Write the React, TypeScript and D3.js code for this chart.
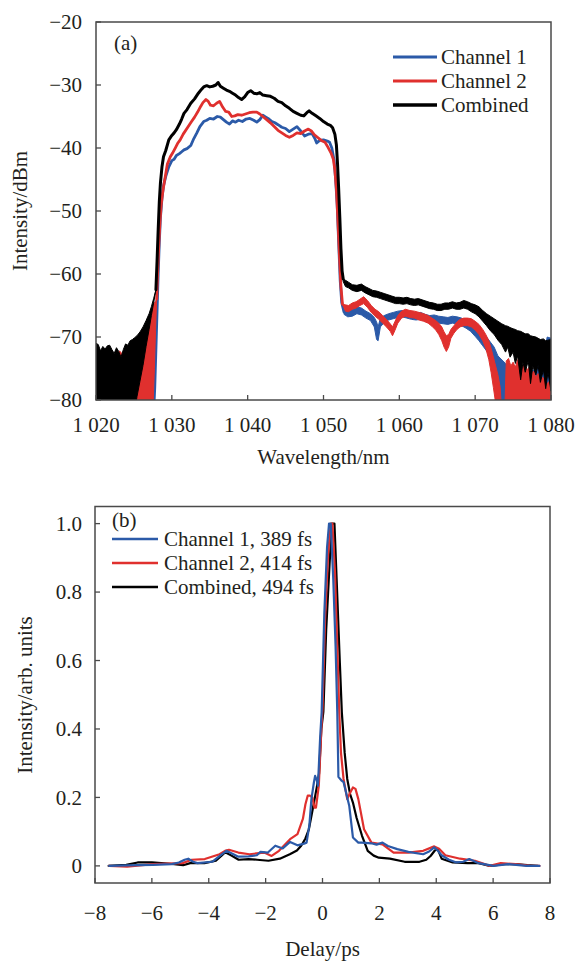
import React from 'react';
import * as d3 from 'd3';

// ---------- Panel (a): spectra ----------
const wlTicks = [1020, 1030, 1040, 1050, 1060, 1070, 1080];
const dbTicks = [-20, -30, -40, -50, -60, -70, -80];

// Channel 1 (blue) main trace
const ch1Wl = [1027.6, 1027.75, 1027.9, 1028.05, 1028.2, 1028.35, 1028.5, 1028.7, 1028.9, 1029.2, 1029.6, 1030.0, 1030.3, 1030.6, 1031.0, 1031.3, 1031.6, 1032.0, 1032.5, 1032.9, 1033.3, 1033.7, 1034.2, 1034.6, 1035.0, 1035.5, 1036.0, 1036.4, 1036.8, 1037.2, 1037.6, 1038.0, 1038.4, 1038.8, 1039.3, 1039.8, 1040.3, 1040.8, 1041.2, 1041.6, 1042.0, 1042.4, 1042.8, 1043.2, 1043.6, 1044.0, 1044.5, 1045.0, 1045.5, 1046.0, 1046.5, 1047.0, 1047.5, 1048.0, 1048.5, 1048.9, 1049.1, 1049.5, 1050.0, 1050.5, 1050.8, 1051.1, 1051.4, 1051.6, 1051.8, 1052.0, 1052.2, 1052.4, 1052.7];
const ch1Db = [-82, -78, -72, -66, -60, -55, -51, -48, -46, -44.5, -43, -42, -41.8, -41.2, -40.9, -40.6, -40.3, -40.1, -39.6, -38.5, -37.6, -36.6, -35.8, -35.6, -35.3, -35.4, -35.0, -35.1, -35.5, -35.9, -36.2, -35.7, -35.9, -35.6, -35.8, -35.4, -35.3, -35.6, -35.9, -35.5, -34.8, -35.1, -35.4, -35.8, -36.0, -36.3, -36.7, -36.9, -37.4, -37.0, -36.6, -37.3, -38.1, -37.8, -37.7, -38.6, -39.2, -38.8, -38.7, -38.9, -39.1, -40, -42, -45, -49, -55, -61, -64.5, -66];
// Channel 1 noisy floor beyond the band edge (upper / lower envelope)
const ch1TailWl = [1052.7, 1053.2, 1053.8, 1054.4, 1055.0, 1055.6, 1056.2, 1056.7, 1057.0, 1057.2, 1057.5, 1058.0, 1058.6, 1059.2, 1059.8, 1060.4, 1061.0, 1061.6, 1062.2, 1062.8, 1063.4, 1064.0, 1064.6, 1065.2, 1065.8, 1066.4, 1067.0, 1067.6, 1068.2, 1068.8, 1069.4, 1070.0, 1070.5, 1071.0, 1071.5, 1072.0, 1072.5, 1073.0, 1074.0, 1075.0, 1076.0, 1077.0, 1078.0, 1079.0, 1079.5, 1080.0];
const ch1TailHi = [-65.6, -65.8, -65.6, -65.2, -65.4, -65.9, -66.3, -66.9, -67.6, -68.4, -67.0, -66.6, -66.3, -66.1, -65.9, -65.8, -66.0, -66.1, -66.2, -66.1, -66.4, -66.6, -66.5, -66.7, -66.8, -66.9, -66.7, -66.8, -67.0, -67.3, -67.6, -68.2, -68.8, -69.4, -70.0, -70.8, -71.6, -73.0, -74.2, -75.0, -75.4, -75.8, -75.0, -73.0, -70.0, -70.2];
const ch1TailLo = [-66.4, -66.8, -66.7, -66.3, -66.5, -67.0, -67.4, -68.4, -70.4, -70.6, -68.4, -67.7, -67.3, -67.1, -66.9, -66.8, -67.0, -67.2, -67.3, -67.2, -67.5, -67.7, -67.6, -67.8, -67.9, -68.0, -67.8, -67.9, -68.2, -68.6, -69.1, -69.9, -70.6, -71.4, -72.2, -73.2, -74.6, -82, -82, -82, -82, -82, -82, -82, -82, -82];

// Channel 2 (red) main trace
const ch2Wl = [1028.0, 1028.15, 1028.3, 1028.45, 1028.6, 1028.8, 1029.0, 1029.4, 1029.8, 1030.1, 1030.5, 1030.8, 1031.1, 1031.5, 1032.1, 1032.6, 1033.0, 1033.4, 1033.8, 1034.1, 1034.5, 1034.8, 1035.1, 1035.5, 1035.9, 1036.3, 1036.7, 1037.1, 1037.5, 1037.9, 1038.3, 1038.7, 1039.2, 1039.7, 1040.2, 1040.7, 1041.2, 1041.6, 1042.0, 1042.5, 1043.0, 1043.5, 1044.0, 1044.5, 1045.0, 1045.5, 1046.0, 1046.5, 1047.0, 1047.5, 1048.0, 1048.4, 1048.8, 1049.2, 1049.7, 1050.2, 1050.6, 1051.0, 1051.3, 1051.5, 1051.7, 1051.9, 1052.1, 1052.3, 1052.5];
const ch2Db = [-64, -59, -55, -51.5, -49, -47, -45.5, -42.6, -41.4, -40.8, -39.9, -39.2, -38.7, -37.8, -36.7, -35.8, -35.1, -34.3, -33.4, -32.8, -32.3, -32.6, -33.2, -33.3, -32.9, -32.6, -33.5, -34.2, -34.3, -35.0, -34.9, -34.7, -34.8, -34.6, -34.4, -34.3, -34.3, -34.6, -35.0, -35.5, -36.0, -36.6, -37.2, -37.6, -38.0, -38.3, -38.0, -37.6, -37.7, -37.3, -37.0, -37.3, -37.9, -38.3, -38.8, -39.1, -39.9, -40.8, -41.8, -43.5, -46.5, -51.5, -57, -62, -64.8];
// Channel 2 noisy floor, short wavelength side
const ch2HeadWl = [1020, 1020.5, 1021, 1021.5, 1022, 1022.5, 1022.8, 1023.1, 1023.4, 1023.8, 1024.2, 1024.6, 1025.0, 1025.4, 1025.8, 1026.2, 1026.6, 1027.0, 1027.3, 1027.55, 1027.7, 1027.85, 1028.0];
const ch2HeadHi = [-74.5, -75, -74.2, -75, -74.6, -73.8, -73.2, -72.2, -72.6, -74, -73.6, -74.5, -74.4, -73.6, -72.6, -71.2, -69.6, -67.8, -66.2, -65.0, -64.6, -64.3, -64];
const ch2HeadLo = [-82, -82, -82, -82, -82, -82, -82, -82, -82, -82, -82, -82, -82, -82, -82, -82, -82, -82, -82, -80, -75, -69, -64];
// Channel 2 noisy floor, long wavelength side
const ch2TailWl = [1052.5, 1052.9, 1053.3, 1053.8, 1054.3, 1054.8, 1055.3, 1055.8, 1056.3, 1056.8, 1057.3, 1057.8, 1058.3, 1058.8, 1059.1, 1059.4, 1059.8, 1060.3, 1060.8, 1061.4, 1062.0, 1062.6, 1063.2, 1063.8, 1064.3, 1064.8, 1065.2, 1065.6, 1065.9, 1066.2, 1066.5, 1066.8, 1067.2, 1067.6, 1068.0, 1068.5, 1069.0, 1069.5, 1070.0, 1070.5, 1071.0, 1071.4, 1071.8, 1072.1, 1072.4, 1072.7, 1073.0, 1073.3, 1073.5, 1073.9, 1074.1, 1074.4, 1074.7, 1075.0, 1075.3, 1075.6, 1075.9, 1076.2, 1076.5, 1076.8, 1077.1, 1077.4, 1077.7, 1078.0, 1078.3, 1078.6, 1078.9, 1079.2, 1079.5, 1079.8, 1080];
const ch2TailHi = [-64.8, -64.9, -65.0, -64.6, -64.4, -64.0, -63.6, -64.2, -65.0, -65.6, -66.0, -66.6, -67.2, -67.9, -68.4, -67.6, -66.6, -65.9, -65.6, -65.8, -65.9, -66.1, -66.3, -66.6, -67.0, -67.4, -67.8, -68.4, -69.2, -69.8, -69.6, -68.8, -68.2, -67.6, -67.2, -67.0, -67.0, -67.1, -67.5, -68.0, -68.8, -69.6, -70.6, -71.8, -73.2, -74.6, -76.0, -78.0, -82, -82, -73.8, -73.4, -74.6, -74.0, -74.8, -73.6, -74.4, -74.9, -74.2, -75.3, -74.8, -76.0, -75.4, -76.4, -75.8, -77.0, -76.4, -76.8, -77.4, -77.0, -77.6];
const ch2TailLo = [-64.8, -65.9, -66.0, -65.6, -65.4, -65.0, -64.7, -65.3, -66.1, -66.7, -67.2, -67.8, -68.4, -69.1, -69.8, -69.0, -67.8, -67.0, -66.7, -66.9, -67.0, -67.3, -67.5, -67.8, -68.3, -68.9, -69.6, -70.6, -71.6, -72.3, -71.6, -70.2, -69.4, -68.8, -68.4, -68.2, -68.2, -68.4, -68.9, -69.6, -70.6, -71.8, -73.6, -75.6, -78.0, -80.5, -82, -82, -82, -82, -82, -82, -82, -82, -82, -82, -82, -82, -82, -82, -82, -82, -82, -82, -82, -82, -82, -82, -82, -82, -82];

// Combined (black) main trace
const cmbWl = [1027.9, 1028.05, 1028.2, 1028.35, 1028.5, 1028.7, 1028.9, 1029.2, 1029.6, 1030.0, 1030.3, 1030.6, 1031.0, 1031.3, 1031.6, 1032.0, 1032.5, 1033.0, 1033.5, 1033.9, 1034.2, 1034.6, 1035.0, 1035.4, 1035.8, 1036.1, 1036.4, 1036.8, 1037.2, 1037.6, 1038.0, 1038.4, 1038.8, 1039.2, 1039.6, 1040.0, 1040.4, 1040.8, 1041.2, 1041.6, 1042.0, 1042.5, 1043.0, 1043.5, 1044.0, 1044.5, 1045.0, 1045.5, 1046.0, 1046.5, 1047.0, 1047.4, 1047.8, 1048.1, 1048.5, 1049.0, 1049.5, 1050.0, 1050.5, 1050.9, 1051.2, 1051.5, 1051.7, 1051.85, 1052.0, 1052.15, 1052.3, 1052.45, 1052.6];
const cmbDb = [-62.5, -58, -53, -48.5, -45.5, -43, -41.4, -40.4, -38.7, -38.0, -37.6, -37.1, -36.2, -35.4, -34.5, -33.9, -32.9, -32.2, -31.3, -30.7, -30.3, -30.1, -30.3, -30.2, -30.0, -29.6, -30.2, -30.5, -30.8, -31.0, -31.3, -31.6, -32.0, -32.3, -31.9, -31.2, -30.9, -31.3, -31.4, -31.2, -31.6, -31.7, -31.8, -32.1, -32.6, -32.8, -33.3, -33.7, -34.2, -34.5, -34.8, -34.9, -34.4, -34.1, -34.5, -34.9, -35.3, -35.8, -36.2, -36.4, -36.8, -37.8, -39.5, -42.5, -46.5, -51, -56, -59.5, -60.8];
// Combined noisy floor, short wavelength side
const cmbHeadWl = [1020, 1020.3, 1020.6, 1020.9, 1021.2, 1021.5, 1021.8, 1022.1, 1022.4, 1022.7, 1023.0, 1023.3, 1023.6, 1023.9, 1024.2, 1024.5, 1024.8, 1025.1, 1025.4, 1025.8, 1026.2, 1026.6, 1027.0, 1027.3, 1027.6, 1027.9];
const cmbHeadHi = [-71.0, -71.2, -72.2, -71.5, -71.9, -71.4, -71.3, -72.0, -72.6, -71.7, -72.3, -73.2, -72.0, -71.1, -71.3, -70.6, -70.4, -70.1, -69.8, -69.2, -68.4, -67.4, -66.3, -65.2, -63.9, -62.5];
const cmbHeadLo = [-82, -82, -82, -82, -82, -82, -82, -82, -82, -82, -82, -82, -82, -82, -82, -82, -82, -82, -79.5, -77, -74.5, -71.5, -68.8, -66.6, -64.6, -62.5];
// Combined noisy floor, long wavelength side
const cmbTailWl = [1052.6, 1052.9, 1053.3, 1053.8, 1054.4, 1055.0, 1055.5, 1056.0, 1056.5, 1057.0, 1057.5, 1058.0, 1058.5, 1059.0, 1059.5, 1060.0, 1060.5, 1061.0, 1061.5, 1062.0, 1062.5, 1063.0, 1063.5, 1064.0, 1064.5, 1065.0, 1065.5, 1066.0, 1066.5, 1067.0, 1067.5, 1068.0, 1068.5, 1069.0, 1069.5, 1070.0, 1070.5, 1071.0, 1071.5, 1072.0, 1072.5, 1073.0, 1073.5, 1074.0, 1074.3, 1074.6, 1075.0, 1075.3, 1075.6, 1076.0, 1076.3, 1076.6, 1077.0, 1077.3, 1077.6, 1078.0, 1078.3, 1078.6, 1079.0, 1079.3, 1079.6, 1080.0];
const cmbTailHi = [-60.8, -61.0, -61.3, -61.7, -61.8, -61.6, -62.0, -62.3, -62.6, -62.7, -62.9, -63.1, -63.3, -63.5, -63.7, -63.7, -63.8, -63.7, -63.9, -64.0, -63.9, -64.1, -64.3, -64.5, -64.6, -64.8, -64.8, -64.6, -64.6, -64.4, -64.6, -64.5, -64.2, -64.4, -64.7, -64.9, -65.2, -65.8, -66.3, -66.7, -67.1, -67.5, -67.9, -68.2, -68.3, -68.5, -68.7, -68.8, -69.0, -69.1, -69.3, -69.5, -69.5, -69.8, -69.9, -70.0, -70.2, -70.4, -70.3, -70.6, -70.5, -70.4];
const cmbTailLo = [-61.2, -62.0, -62.2, -62.6, -62.8, -62.6, -63.0, -63.3, -63.6, -63.7, -63.9, -64.1, -64.3, -64.5, -64.7, -64.7, -64.8, -64.7, -64.9, -65.0, -64.9, -65.1, -65.3, -65.5, -65.6, -65.8, -65.8, -65.6, -65.6, -65.4, -65.6, -65.6, -65.4, -65.6, -66.0, -66.3, -66.8, -67.5, -68.2, -69.0, -69.6, -70.5, -71.2, -72.4, -71.6, -73.2, -72.4, -74.2, -73.0, -76.8, -74.0, -75.6, -73.8, -77.4, -74.6, -76.0, -74.5, -77.2, -75.2, -78.2, -75.6, -78.6];

// ---------- Panel (b): autocorrelation ----------
const delayTicks = [-8, -6, -4, -2, 0, 2, 4, 6, 8];
const acTicks = [0, 0.2, 0.4, 0.6, 0.8, 1.0];

const acCh1T = [-7.5, -6.5, -5.96, -5.3, -5.05, -4.85, -4.72, -4.55, -4.4, -3.88, -3.6, -3.38, -3.15, -2.96, -2.6, -2.31, -2.18, -1.92, -1.66, -1.4, -1.14, -0.88, -0.65, -0.56, -0.46, -0.39, -0.3, -0.26, -0.2, -0.16, -0.08, -0.03, 0.065, 0.16, 0.23, 0.29, 0.38, 0.46, 0.52, 0.56, 0.66, 0.74, 0.84, 0.94, 1.07, 1.26, 1.39, 1.72, 1.9, 2.11, 2.3, 2.63, 3.02, 3.54, 3.75, 3.93, 4.05, 4.19, 4.45, 4.71, 4.95, 5.16, 5.49, 6.01, 6.53, 7.18, 7.63];
const acCh1V = [0, 0.002, 0.003, 0.005, 0.01, 0.018, 0.021, 0.012, 0.008, 0.012, 0.03, 0.044, 0.035, 0.027, 0.028, 0.031, 0.041, 0.039, 0.059, 0.051, 0.070, 0.06, 0.065, 0.068, 0.12, 0.195, 0.245, 0.263, 0.25, 0.234, 0.38, 0.448, 0.74, 0.93, 1.0, 1.0, 0.835, 0.642, 0.448, 0.26, 0.25, 0.245, 0.21, 0.176, 0.083, 0.068, 0.068, 0.066, 0.062, 0.068, 0.058, 0.049, 0.041, 0.034, 0.042, 0.054, 0.045, 0.031, 0.018, 0.01, 0.012, 0.02, 0.008, 0, 0.005, 0, 0];

const acCh2T = [-7.5, -6.87, -5.96, -4.92, -4.6, -4.14, -3.62, -3.4, -3.29, -2.96, -2.57, -2.05, -1.79, -1.53, -1.14, -0.88, -0.69, -0.6, -0.52, -0.44, -0.36, -0.28, -0.23, -0.13, -0.04, 0.0, 0.09, 0.2, 0.29, 0.35, 0.44, 0.52, 0.59, 0.65, 0.74, 0.87, 0.95, 1.07, 1.16, 1.26, 1.46, 1.72, 2.11, 2.5, 3.02, 3.54, 3.93, 4.1, 4.32, 4.84, 5.36, 5.88, 6.27, 6.79, 7.31, 7.63];
const acCh2V = [0, -0.002, 0.005, 0.008, 0.018, 0.02, 0.034, 0.045, 0.047, 0.039, 0.034, 0.039, 0.029, 0.044, 0.078, 0.093, 0.137, 0.18, 0.205, 0.205, 0.2, 0.17, 0.17, 0.234, 0.4, 0.458, 0.72, 0.913, 1.0, 1.0, 0.855, 0.64, 0.448, 0.33, 0.254, 0.195, 0.21, 0.229, 0.225, 0.195, 0.107, 0.068, 0.063, 0.039, 0.039, 0.044, 0.057, 0.05, 0.031, 0.021, 0.015, 0, 0.008, 0.005, 0, 0];

const acCmbT = [-7.52, -6.9, -6.5, -6.0, -5.45, -4.9, -4.65, -4.15, -3.75, -3.55, -3.42, -3.2, -2.95, -2.6, -2.3, -1.9, -1.5, -1.15, -0.9, -0.75, -0.6, -0.48, -0.38, -0.3, -0.2, -0.12, -0.04, 0.03, 0.13, 0.25, 0.33, 0.42, 0.52, 0.61, 0.68, 0.78, 0.87, 0.97, 1.07, 1.2, 1.39, 1.59, 1.8, 1.98, 2.37, 2.89, 3.41, 3.65, 3.8, 3.95, 4.05, 4.19, 4.58, 5.1, 5.49, 5.88, 6.4, 6.79, 7.2, 7.57];
const acCmbV = [0, 0.003, 0.01, 0.01, 0.007, 0.002, 0.008, 0.008, 0.015, 0.03, 0.04, 0.03, 0.018, 0.02, 0.018, 0.015, 0.021, 0.034, 0.045, 0.059, 0.08, 0.107, 0.15, 0.185, 0.23, 0.27, 0.40, 0.45, 0.69, 0.884, 1.0, 1.0, 0.787, 0.593, 0.448, 0.33, 0.254, 0.21, 0.185, 0.14, 0.088, 0.044, 0.03, 0.024, 0.021, 0.012, 0.012, 0.018, 0.029, 0.045, 0.049, 0.021, 0.01, 0.008, 0.008, 0, 0.005, 0.005, 0.002, 0];

const legendA = ['Channel 1', 'Channel 2', 'Combined'];
const legendB = ['Channel 1, 389 fs', 'Channel 2, 414 fs', 'Combined, 494 fs'];

const BLUE = '#2b5aa8';
const RED = '#e0302e';
const BLACK = '#000000';
const FRAME = '#4a4a4a';
const TEXT = '#231f20';
const FS = 21;

const minus = (s: string) => s.replace(/-/g, '\u2212');

// Serif text element (font set both as attribute and inline style)
function T(props: any) {
  const { style, children, ...rest } = props;
  return (
    <text
      {...rest}
      fontFamily="Liberation Serif"
      fontSize={FS}
      fill={TEXT}
      style={{ fontFamily: "'Liberation Serif', monospace", fontSize: FS, ...(style || {}) }}
    >
      {children}
    </text>
  );
}

export default function App() {
  const A = { l: 96, r: 551, t: 22, b: 400 };
  const xA = d3.scaleLinear().domain([1020, 1080]).range([A.l, A.r]);
  const yA = d3.scaleLinear().domain([-80, -20]).range([A.b, A.t]);
  const B = { l: 95, r: 550, t: 506.5, b: 883 };
  const xB = d3.scaleLinear().domain([-8, 8]).range([B.l, B.r]);
  const yB = d3.scaleLinear().domain([-0.05, 1.05]).range([B.b, B.t]);

  const lineA = (wl: number[], db: number[]) =>
    d3.line<number>().x((_, i) => xA(wl[i])).y((d) => yA(d))(db) || '';
  const bandA = (wl: number[], hi: number[], lo: number[]) =>
    d3.area<number>().x((_, i) => xA(wl[i])).y0((_, i) => yA(lo[i])).y1((d) => yA(d))(hi) || '';
  const lineB = (t: number[], v: number[]) =>
    d3.line<number>().x((_, i) => xB(t[i])).y((d) => yB(d))(v) || '';

  const seriesA = [
    { color: BLUE, line: lineA(ch1Wl, ch1Db), bands: [bandA(ch1TailWl, ch1TailHi, ch1TailLo)] },
    { color: RED, line: lineA(ch2Wl, ch2Db), bands: [bandA(ch2HeadWl, ch2HeadHi, ch2HeadLo), bandA(ch2TailWl, ch2TailHi, ch2TailLo)] },
    { color: BLACK, line: lineA(cmbWl, cmbDb), bands: [bandA(cmbHeadWl, cmbHeadHi, cmbHeadLo), bandA(cmbTailWl, cmbTailHi, cmbTailLo)] },
  ];
  const colorsA = [BLUE, RED, BLACK];

  const seriesB = [
    { color: BLACK, d: lineB(acCmbT, acCmbV) },
    { color: RED, d: lineB(acCh2T, acCh2V) },
    { color: BLUE, d: lineB(acCh1T, acCh1V) },
  ];
  const colorsB = [BLUE, RED, BLACK];

  const tickLen = 5;

  return (
    <svg width={576} height={961} style={{ position: 'absolute', left: 0, top: 0, background: '#fff' }}>
      <style>{`text { font-family: 'Liberation Serif', monospace; }`}</style>
      <defs>
        <clipPath id="clipA"><rect x={A.l} y={A.t} width={A.r - A.l} height={A.b - A.t} /></clipPath>
        <clipPath id="clipB"><rect x={B.l} y={B.t} width={B.r - B.l} height={B.b - B.t} /></clipPath>
      </defs>
      <rect x={0} y={0} width={576} height={961} fill="#fff" />

      {/* ---------- Panel (a) ---------- */}
      <g clipPath="url(#clipA)">
        {seriesA.map((s, i) => (
          <g key={i}>
            {s.bands.map((b, j) => (
              <path key={j} d={b} fill={s.color} stroke={s.color} strokeWidth={1} strokeLinejoin="round" />
            ))}
            <path d={s.line} fill="none" stroke={s.color} strokeWidth={i === 2 ? 3 : 2.8} strokeLinejoin="round" strokeLinecap="round" />
          </g>
        ))}
      </g>
      <rect x={A.l} y={A.t} width={A.r - A.l} height={A.b - A.t} fill="none" stroke={FRAME} strokeWidth={1.5} />
      {wlTicks.map((t) => (
        <g key={t}>
          <line x1={xA(t)} x2={xA(t)} y1={A.b} y2={A.b - tickLen} stroke={FRAME} strokeWidth={1.3} />
          <T x={xA(t)} y={432} textAnchor="middle">
            {d3.format(',')(t).replace(',', ' ')}
          </T>
        </g>
      ))}
      {dbTicks.map((t) => (
        <g key={t}>
          <line x1={A.l} x2={A.l + tickLen} y1={yA(t)} y2={yA(t)} stroke={FRAME} strokeWidth={1.3} />
          <T x={82} y={yA(t)} dy="0.35em" textAnchor="end">
            {minus(String(t))}
          </T>
        </g>
      ))}
      <T x={323.5} y={464} textAnchor="middle">Wavelength/nm</T>
      <T transform={`translate(27,211) rotate(-90)`} textAnchor="middle">Intensity/dBm</T>
      <T x={114} y={43} dy="0.35em">(a)</T>
      {legendA.map((name, i) => {
        const y = 57 + i * 24;
        return (
          <g key={name}>
            <line x1={393} x2={437} y1={y} y2={y} stroke={colorsA[i]} strokeWidth={i === 2 ? 3.5 : 3} />
            <T x={441} y={y} dy="0.35em">{name}</T>
          </g>
        );
      })}

      {/* ---------- Panel (b) ---------- */}
      <g clipPath="url(#clipB)">
        {seriesB.map((s, i) => (
          <path key={i} d={s.d} fill="none" stroke={s.color} strokeWidth={2.2} strokeLinejoin="round" strokeLinecap="round" />
        ))}
      </g>
      <rect x={B.l} y={B.t} width={B.r - B.l} height={B.b - B.t} fill="none" stroke={FRAME} strokeWidth={1.5} />
      {delayTicks.map((t) => (
        <g key={t}>
          <line x1={xB(t)} x2={xB(t)} y1={B.b} y2={B.b - tickLen} stroke={FRAME} strokeWidth={1.3} />
          <T x={xB(t)} y={920} textAnchor="middle">
            {minus(String(t))}
          </T>
        </g>
      ))}
      {acTicks.map((t) => (
        <g key={t}>
          <line x1={B.l} x2={B.l + tickLen} y1={yB(t)} y2={yB(t)} stroke={FRAME} strokeWidth={1.3} />
          <T x={82} y={yB(t)} dy="0.35em" textAnchor="end">
            {t === 0 ? '0' : d3.format('.1f')(t)}
          </T>
        </g>
      ))}
      <T x={322.5} y={956} textAnchor="middle">Delay/ps</T>
      <T transform={`translate(32,695) rotate(-90)`} textAnchor="middle">Intensity/arb. units</T>
      <T x={112} y={520} dy="0.35em">(b)</T>
      {legendB.map((name, i) => {
        const y = 539 + i * 24;
        return (
          <g key={name}>
            <line x1={112} x2={158} y1={y} y2={y} stroke={colorsB[i]} strokeWidth={2.5} />
            <T x={164} y={y} dy="0.35em">{name}</T>
          </g>
        );
      })}
    </svg>
  );
}
